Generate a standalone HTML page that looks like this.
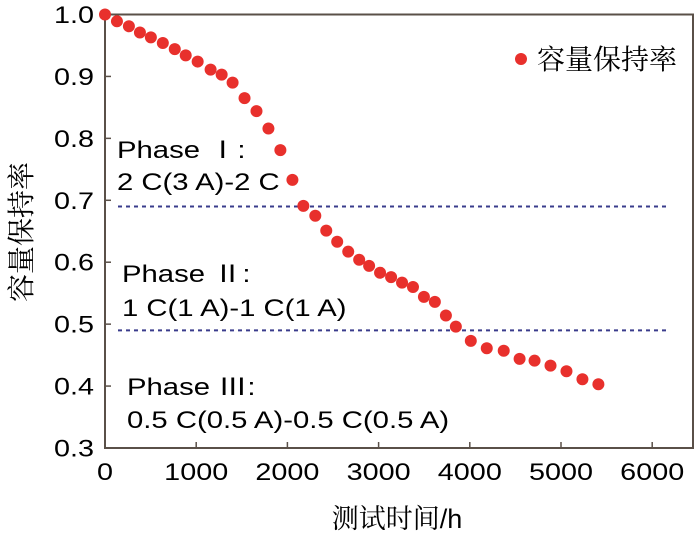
<!DOCTYPE html>
<html><head><meta charset="utf-8"><style>
html,body{margin:0;padding:0;background:#fff;}
svg text{font-family:"Liberation Sans","Noto Sans CJK SC",sans-serif;}
.cn{font-family:"Liberation Serif","Noto Serif CJK SC",serif;}
</style></head><body>
<svg id="chart" width="699" height="533" xmlns="http://www.w3.org/2000/svg">
<rect x="105" y="14.5" width="588" height="433.5" fill="none" stroke="#5a5048" stroke-width="2"/>
<g id="ticks"></g>
<g id="ref-lines"></g>
<g id="points"></g>
<g transform="translate(117,158) scale(1.22,1)"><text x="0" y="0" font-size="24">Phase  Ⅰ:</text></g>
<g transform="translate(117,190) scale(1.22,1)"><text x="0" y="0" font-size="24">2 C(3 A)-2 C</text></g>
<g transform="translate(122,282) scale(1.22,1)"><text x="0" y="0" font-size="24">Phase  Ⅱ:</text></g>
<g transform="translate(122,316) scale(1.22,1)"><text x="0" y="0" font-size="24">1 C(1 A)-1 C(1 A)</text></g>
<g transform="translate(127,395) scale(1.22,1)"><text x="0" y="0" font-size="24">Phase Ⅲ:</text></g>
<g transform="translate(127,428) scale(1.22,1)"><text x="0" y="0" font-size="24">0.5 C(0.5 A)-0.5 C(0.5 A)</text></g>
<circle cx="521" cy="59" r="6" fill="#e8302c"/>
<text class="cn" x="537" y="69" font-size="28">容量保持率</text>
<text class="cn" transform="translate(31,232) rotate(-90)" text-anchor="middle" font-size="28">容量保持率</text>
<text x="397" y="528" text-anchor="middle" font-size="27"><tspan class="cn">测试时间</tspan>/h</text>
</svg>
<script>
const xVals=[0,131,262,383,503,634,765,885,1016,1158,1279,1399,1530,1661,1792,1923,2055,2175,2306,2426,2546,2667,2787,2896,3016,3137,3257,3377,3497,3617,3738,3847,4011,4186,4372,4546,4710,4885,5060,5235,5410];
const yVals=[1.0,0.989,0.981,0.971,0.963,0.954,0.944,0.934,0.924,0.911,0.903,0.890,0.865,0.844,0.816,0.781,0.733,0.691,0.675,0.651,0.633,0.617,0.604,0.594,0.583,0.576,0.567,0.560,0.544,0.536,0.514,0.496,0.473,0.461,0.457,0.444,0.441,0.433,0.424,0.411,0.403];
const xTicks=[0,1000,2000,3000,4000,5000,6000];
const yTicks=[0.3,0.4,0.5,0.6,0.7,0.8,0.9,1.0];
const refLines=[0.69,0.49];
const NS="http://www.w3.org/2000/svg";
const X=v=>105+v*0.0912;
const Y=v=>448-(v-0.3)/0.7*433.5;
function mk(t,a,p){const e=document.createElementNS(NS,t);for(const k in a)e.setAttribute(k,a[k]);p.appendChild(e);return e;}
const tg=document.getElementById('ticks');
xTicks.forEach(v=>{
 const l=mk('line',{x1:X(v),x2:X(v),y1:448,y2:442,stroke:'#5a5048','stroke-width':1.5},tg);
 
 
 const g=mk('g',{transform:'translate('+X(v)+',480) scale(1.2,1)'},tg);
 const t=mk('text',{x:0,y:0,'text-anchor':'middle','font-size':24},g);
 t.textContent=v;
 
 
});
yTicks.forEach(v=>{
 const l=mk('line',{x1:105,x2:111,y1:Y(v),y2:Y(v),stroke:'#5a5048','stroke-width':1.5},tg);
 
 
 const g=mk('g',{transform:'translate(94,'+(Y(v)+8.5)+') scale(1.2,1)'},tg);
 const t=mk('text',{x:0,y:0,'text-anchor':'end','font-size':24},g);
 t.textContent=v.toFixed(1);
 
 
});
const rg=document.getElementById('ref-lines');
refLines.forEach(v=>{
 const l=mk('line',{x1:118,x2:667,y1:Y(v),y2:Y(v),stroke:'#3a3c8c','stroke-width':2,'stroke-dasharray':'4 4'},rg);
 
 
});
const pg=document.getElementById('points');
xVals.forEach((x,i)=>{
 const c=mk('circle',{cx:X(x),cy:Y(yVals[i]),r:6,fill:'#e8302c'},pg);
 
 
});
</script>
</body></html>
